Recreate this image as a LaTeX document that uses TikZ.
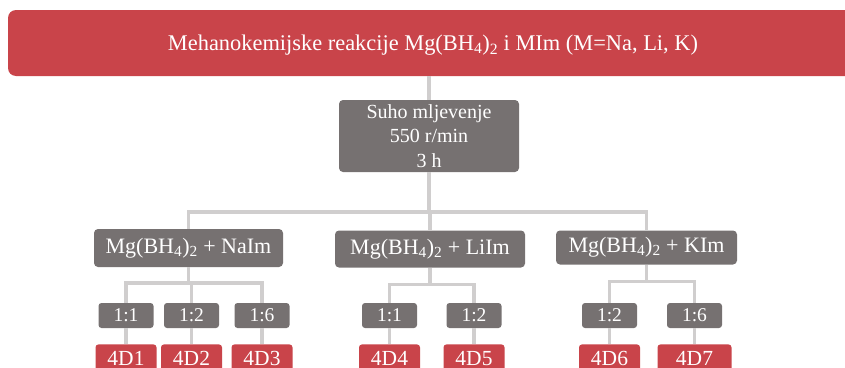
\documentclass[tikz,border=0pt]{standalone}
\usepackage{fontspec}
\setmainfont{Liberation Serif}
\usepackage{xcolor}
\usetikzlibrary{positioning}
\definecolor{mred}{HTML}{C9444A}
\definecolor{mgray}{HTML}{767171}
\definecolor{mlink}{HTML}{D0CECE}

\begin{document}
\begin{tikzpicture}[x=1pt,y=-1pt,
  redbox/.style={fill=mred,text=white,rounded corners=3pt,inner sep=0pt,minimum width=61,minimum height=34,text depth=6pt,font=\fontsize{21.5}{26}\selectfont},
  graybox/.style={fill=mgray,text=white,rounded corners=4pt,inner sep=0pt,align=center,font=\fontsize{22}{26}\selectfont},
  ratio/.style={graybox,rounded corners=3pt,minimum width=55,minimum height=25,font=\fontsize{19.5}{22}\selectfont},
  link/.style={draw=mlink,line width=3.5pt}]
 	\useasboundingbox (0,0) rectangle (845,367);
 	\node[redbox,minimum width=850,minimum height=66,text depth=0pt,rounded corners=8pt,font=\fontsize{22.4}{26}\selectfont] (title) at (433,43) {Mehanokemijske reakcije Mg(BH\textsubscript{4})\textsubscript{2} i MIm (M=Na, Li, K)};
 	\node[graybox,minimum width=180,minimum height=72,font=\fontsize{20}{24.5}\selectfont] (suho) at (429,136) {Suho mljevenje\\550 r/min\\3 h};
 	\node[graybox,minimum width=189,minimum height=38] (na) at (188.5,248) {Mg(BH\textsubscript{4})\textsubscript{2} + NaIm};
 	\node[graybox,minimum width=190,minimum height=37] (li) at (430,249) {Mg(BH\textsubscript{4})\textsubscript{2} + LiIm};
 	\node[graybox,minimum width=181,minimum height=34] (k) at (646.5,247.5) {Mg(BH\textsubscript{4})\textsubscript{2} + KIm};
 	\node[ratio] (na11) at (126,315.5) {1:1};
 	\node[ratio] (na12) at (191.5,315.5) {1:2};
 	\node[ratio] (na16) at (262,315.5) {1:6};
 	\node[ratio] (li11) at (389.5,315.5) {1:1};
 	\node[ratio] (li12) at (474,315.5) {1:2};
 	\node[ratio] (k12) at (609.5,315.5) {1:2};
 	\node[ratio] (k16) at (694.5,315.5) {1:6};
 	\node[redbox,below=16pt of na11] (d1) {4D1};
 	\node[redbox,below=16pt of na12] (d2) {4D2};
 	\node[redbox,below=16pt of na16] (d3) {4D3};
 	\node[redbox,below=16pt of li11] (d4) {4D4};
 	\node[redbox,below=16pt of li12] (d5) {4D5};
 	\node[redbox,below=16pt of k12] (d6) {4D6};
 	\node[redbox,below=16pt of k16,minimum width=74] (d7) {4D7};
 	% connectors
 	\draw[link] (title.south -| suho.north) -- (suho.north);
 	\draw[link] (suho.south) -- ++(0,40) coordinate (bus);
 	\draw[link] (na.north) |- (bus);
 	\draw[link] (k.north) |- (bus);
 	\draw[link] (li.north) -- (li.north |- bus);
 	\draw[link] (na.south) -- ++(0,16) coordinate (naj);
 	\draw[link] (na11.north) |- (naj);
 	\draw[link] (na16.north) |- (naj);
 	\draw[link] (na12.north) -- (na12.north |- naj);
 	\draw[link] (li.south) -- ++(0,17) coordinate (lij);
 	\draw[link] (li11.north) |- (lij);
 	\draw[link] (li12.north) |- (lij);
 	\draw[link] (k.south) -- ++(0,17) coordinate (kj);
 	\draw[link] (k12.north) |- (kj);
 	\draw[link] (k16.north) |- (kj);
 	\foreach \r/\d in {na11/d1,na12/d2,na16/d3,li11/d4,li12/d5,k12/d6,k16/d7}
 		\draw[link] (\r.south) -- (\d.north -| \r.south);
\end{tikzpicture}
\end{document}
